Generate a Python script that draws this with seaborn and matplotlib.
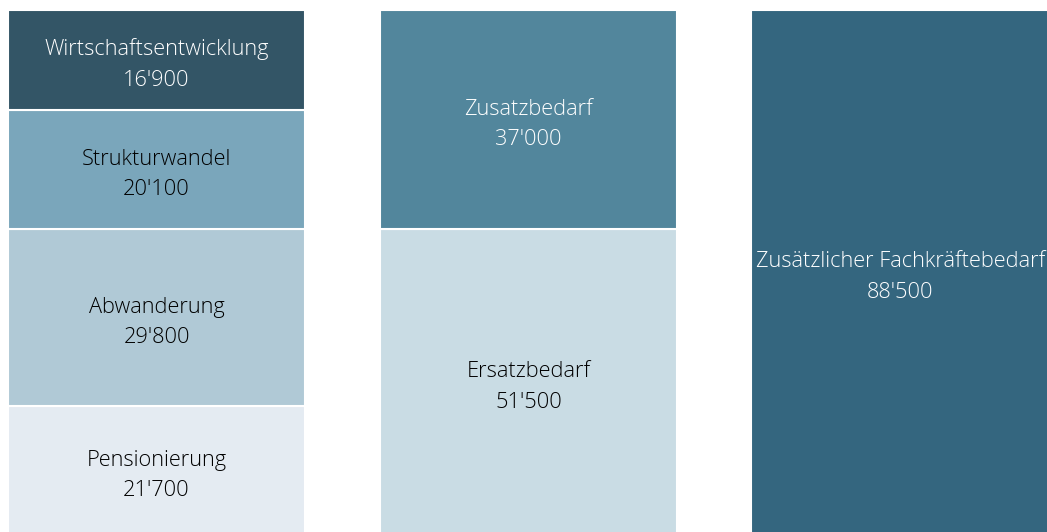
import pandas as pd
import matplotlib.pyplot as plt
import seaborn as sns

# Fachkräftebedarf: Komponenten -> Ersatz/Zusatz -> Gesamt
columns = ["Komponenten", "Bedarf", "Gesamt"]

col1_labels = ["Pensionierung", "Abwanderung", "Strukturwandel", "Wirtschaftsentwicklung"]
col1_values = [21700, 29800, 20100, 16900]
col1_colors = ["#e4ebf2", "#b0c9d6", "#7aa6bb", "#335566"]
col1_text = ["black", "black", "black", "white"]

col2_labels = ["Ersatzbedarf", "Zusatzbedarf"]
col2_values = [51500, 37000]
col2_colors = ["#c9dce4", "#52869c"]
col2_text = ["black", "white"]

col3_labels = ["Zusätzlicher Fachkräftebedarf"]
col3_values = [88500]
col3_colors = ["#34667f"]
col3_text = ["white"]

rows = []
for col, labels, values, colors, tcols in [
    (columns[0], col1_labels, col1_values, col1_colors, col1_text),
    (columns[1], col2_labels, col2_values, col2_colors, col2_text),
    (columns[2], col3_labels, col3_values, col3_colors, col3_text),
]:
    bottom = 0
    for lab, v, c, t in zip(labels, values, colors, tcols):
        rows.append(dict(column=col, segment=lab, value=v, bottom=bottom, color=c, textcolor=t))
        bottom += v
df = pd.DataFrame(rows)

sns.set_style("white")
plt.rcParams["font.family"] = ["Open Sans", "DejaVu Sans"]

fig = plt.figure(figsize=(10.47, 5.32), dpi=100)
ax = fig.add_axes([0, -0.0056, 1, 0.987])

for _, r in df.iterrows():
    sns.barplot(data=df[df.segment == r.segment], x="column", y="value", order=columns,
                bottom=r.bottom, color=r.color, saturation=1, width=0.8,
                edgecolor="white", linewidth=1.5, ax=ax)
    xi = columns.index(r.column)
    label = f"{r.segment}\n{r.value:,}".replace(",", "'")
    # labels sit slightly below the geometric centre in the original
    ax.text(xi, r.bottom + r.value / 2 - 800, label, ha="center", va="center",
            color=r.textcolor, fontsize=15.7, fontweight="light", linespacing=1.6)

ax.set_xlim(-0.421, 2.395)
ax.set_ylim(0, 88500)
ax.axis("off")

fig.savefig("out.png", dpi=100)
